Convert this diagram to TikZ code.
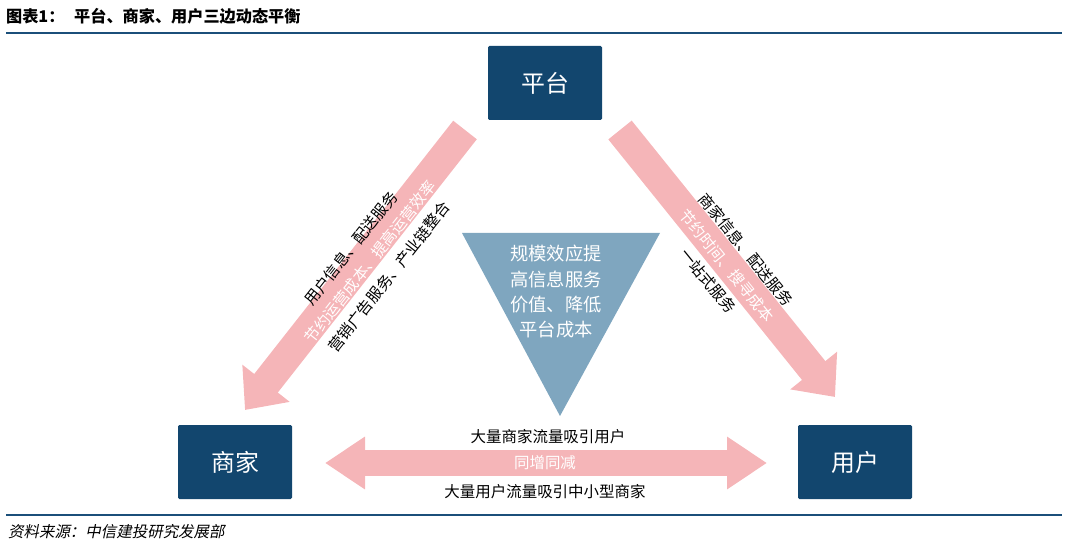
\documentclass[tikz,border=0pt]{standalone}
\usepackage{fontspec}
\setmainfont{Noto Sans CJK SC}
\newfontfamily\cjkit[FakeSlant=0.2]{Noto Sans CJK SC}
\usetikzlibrary{arrows.meta, positioning}
\definecolor{darkblue}{HTML}{12466E}
\definecolor{steel}{HTML}{7FA6BF}
\definecolor{pinkarrow}{HTML}{F5B5B8}
\definecolor{rulecolor}{HTML}{1B4F7A}
\begin{document}
\begin{tikzpicture}[x=0.05cm, y=0.05cm,
        party/.style={rectangle, fill=darkblue, text=white, minimum width=114*0.05cm, minimum height=74*0.05cm, font=\fontsize{34}{40}\selectfont, rounded corners=2pt},
        flow/.style={pinkarrow, line width=30*0.05cm, -{Triangle[width=58*0.05cm, length=34*0.05cm]}},
        label/.style={font=\fontsize{22}{26}\selectfont, inner sep=0pt},
        onarrow/.style={label, text=white}
    ]
        \useasboundingbox (0,0) rectangle (1080,-548);
        % Title and rules
        \node[anchor=west, font=\bfseries\fontsize{23}{26}\selectfont, inner sep=0pt] (title) at (6,-16) {图表1：\hspace{0.6em}平台、商家、用户三边动态平衡};
        \draw[rulecolor, line width=3pt] (6,-33) coordinate (r1) -- (1062,-33) coordinate (r2);
        \draw[rulecolor, line width=1.5pt] (6,-515) coordinate (r3) -- (1062,-515) coordinate (r4);
        \node[anchor=west, font=\cjkit\fontsize{22}{26}\selectfont, inner sep=0pt] (source) at (8,-532) {资料来源：中信建投研究发展部};

        % Parties
        \node[party] (pt) at (545,-83) {平台};
        \node[party] (sj) at (235,-462) {商家};
        \node[party] (yh) at (855,-462) {用户};

        % Centre triangle
        \fill[steel] (462,-233) coordinate (t1) -- (660,-233) coordinate (t2) -- (560,-416) coordinate (t3) -- cycle;
        \node[font=\fontsize{26}{36}\selectfont, text=white, align=center] (scale) at (556,-292) {规模效应提\\高信息服务\\价值、降低\\平台成本};

        % Arrows
        \coordinate (la) at (465,-130);
        \coordinate (lb) at (245,-410);
        \coordinate (ra) at (620,-130);
        \coordinate (rb) at (835,-397);
        \coordinate (ha) at (325,-463);
        \coordinate (hb) at (767,-463);
        \draw[flow] (la) -- (lb);
        \draw[flow] (ra) -- (rb);
        \draw[pinkarrow, line width=26*0.05cm, {Triangle[width=50*0.05cm, length=40*0.05cm]}-{Triangle[width=50*0.05cm, length=40*0.05cm]}] (ha) -- (hb);

        % Arrow labels
        \node[label, rotate=51.8] (lup) at (351,-248) {用户信息、配送服务};
        \node[onarrow, rotate=51.8] (lmid) at (370,-262) {节约运营成本、提高运营效率};
        \node[label, rotate=51.8] (llow) at (389,-277) {营销广告服务、产业链整合};
        \node[label, rotate=-51] (rup) at (746,-250) {商家信息、配送服务};
        \node[onarrow, rotate=-51] (rmid) at (727,-266) {节约时间、搜寻成本};
        \node[label, rotate=-51] (rlow) at (708,-281) {一站式服务};
        \node[label] (hup) at (548,-437) {大量商家流量吸引用户};
        \node[onarrow] (hmid) at (545,-463) {同增同减};
        \node[label] (hlow) at (545,-492) {大量用户流量吸引中小型商家};
    \end{tikzpicture}
\end{document}
